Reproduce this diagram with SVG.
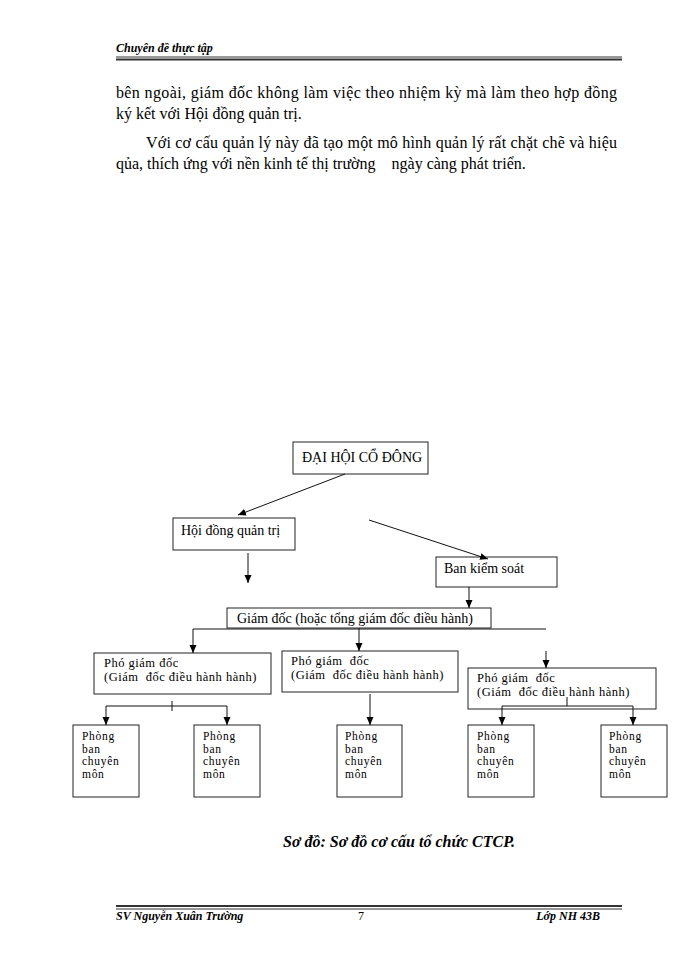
<svg xmlns="http://www.w3.org/2000/svg" width="700" height="960" viewBox="0 0 700 960">
<style>
  .body { font-family: "Liberation Serif", "Times New Roman", serif; font-size: 16px; fill: #000; }
  .hdr { font-family: "Liberation Serif", "Times New Roman", serif; font-size: 12px; font-style: italic; font-weight: bold; fill: #000; }
  .box { fill: #fff; stroke: #222; stroke-width: 1; }
  .t14 { font-family: "Liberation Serif", "Times New Roman", serif; font-size: 14px; fill: #000; }
  .t13 { font-family: "Liberation Serif", "Times New Roman", serif; font-size: 12.5px; letter-spacing: 0.5px; fill: #000; }
  .pb { font-family: "Liberation Serif", "Times New Roman", serif; font-size: 11.5px; letter-spacing: 0.7px; fill: #000; }
  .conn line { stroke: #111; stroke-width: 1; }
  .arr { marker-end: url(#ah); }
  .cap { font-family: "Liberation Serif", "Times New Roman", serif; font-size: 16px; font-style: italic; font-weight: bold; fill: #000; }
</style>
<defs>
  <marker id="ah" markerUnits="userSpaceOnUse" markerWidth="8" markerHeight="8" viewBox="0 0 8 8" refX="8" refY="4" orient="auto">
    <path d="M0,0.5 L8,4 L0,7.5 Z" fill="#000"/>
  </marker>
</defs>
<rect width="700" height="960" fill="#fff"/>

<g id="header">
  <text class="hdr" x="116" y="52">Chuyên đề thực tập</text>
  <line x1="116" y1="57" x2="622" y2="57" stroke="#333" stroke-width="1"/>
  <line x1="116" y1="59.5" x2="622" y2="59.5" stroke="#333" stroke-width="2"/>
</g>

<g id="body-text">
  <text class="body" x="116" y="98" textLength="501" lengthAdjust="spacing">bên ngoài, giám đốc không làm việc theo nhiệm kỳ mà làm theo hợp đồng</text>
  <text class="body" x="116" y="119">ký kết với Hội đồng quản trị.</text>
  <text class="body" x="146" y="148" textLength="471" lengthAdjust="spacing">Với cơ cấu quản lý này đã tạo một mô hình quản lý rất chặt chẽ và hiệu</text>
  <text class="body" x="116" y="169" xml:space="preserve">qủa, thích ứng với nền kinh tế thị trường    ngày càng phát triển.</text>
</g>

<g id="n-dhcd">
  <rect class="box" x="293" y="442" width="135" height="32"/>
  <text class="t14" x="302" y="462">ĐẠI HỘI CỔ ĐÔNG</text>
</g>
<g id="n-hdqt">
  <rect class="box" x="173" y="518" width="122" height="32"/>
  <text class="t14" x="181" y="535">Hội đồng quản trị</text>
</g>
<g id="n-bks">
  <rect class="box" x="436" y="557" width="121" height="30"/>
  <text class="t14" x="444" y="573">Ban kiểm soát</text>
</g>
<g id="n-gd">
  <rect class="box" x="227" y="608" width="264" height="20"/>
  <text class="t14" x="237" y="623">Giám đốc (hoặc tổng giám đốc điều hành)</text>
</g>
<g id="n-pgd1">
  <rect class="box" x="94" y="653" width="177" height="41"/>
  <text class="t13" x="104" y="667">Phó giám đốc</text>
  <text class="t13" x="104" y="681" xml:space="preserve">(Giám  đốc điều hành hành)</text>
</g>
<g id="n-pgd2">
  <rect class="box" x="282" y="651" width="176" height="41"/>
  <text class="t13" x="291" y="664.5" xml:space="preserve">Phó giám  đốc</text>
  <text class="t13" x="291" y="678.5" xml:space="preserve">(Giám  đốc điều hành hành)</text>
</g>
<g id="n-pgd3">
  <rect class="box" x="468" y="668" width="188" height="41"/>
  <text class="t13" x="477" y="682" xml:space="preserve">Phó giám  đốc</text>
  <text class="t13" x="477" y="696" xml:space="preserve">(Giám  đốc điều hành hành)</text>
</g>
<g id="n-pb1">
  <rect class="box" x="73" y="725" width="66" height="72"/>
  <text class="pb" x="82" y="740">Phòng</text>
  <text class="pb" x="82" y="752.5">ban</text>
  <text class="pb" x="82" y="765">chuyên</text>
  <text class="pb" x="82" y="777.5">môn</text>
</g>
<g id="n-pb2">
  <rect class="box" x="194" y="725" width="66" height="72"/>
  <text class="pb" x="203" y="740">Phòng</text>
  <text class="pb" x="203" y="752.5">ban</text>
  <text class="pb" x="203" y="765">chuyên</text>
  <text class="pb" x="203" y="777.5">môn</text>
</g>
<g id="n-pb3">
  <rect class="box" x="337" y="725" width="65" height="72"/>
  <text class="pb" x="345" y="740">Phòng</text>
  <text class="pb" x="345" y="752.5">ban</text>
  <text class="pb" x="345" y="765">chuyên</text>
  <text class="pb" x="345" y="777.5">môn</text>
</g>
<g id="n-pb4">
  <rect class="box" x="468" y="725" width="66" height="72"/>
  <text class="pb" x="477" y="740">Phòng</text>
  <text class="pb" x="477" y="752.5">ban</text>
  <text class="pb" x="477" y="765">chuyên</text>
  <text class="pb" x="477" y="777.5">môn</text>
</g>
<g id="n-pb5">
  <rect class="box" x="601" y="725" width="66" height="72"/>
  <text class="pb" x="609" y="740">Phòng</text>
  <text class="pb" x="609" y="752.5">ban</text>
  <text class="pb" x="609" y="765">chuyên</text>
  <text class="pb" x="609" y="777.5">môn</text>
</g>

<g id="connectors" class="conn">
  <line class="arr" x1="345" y1="474" x2="238" y2="515"/>
  <line class="arr" x1="248" y1="553" x2="248" y2="583"/>
  <line class="arr" x1="369" y1="520" x2="488" y2="559"/>
  <line class="arr" x1="469" y1="587" x2="469" y2="608"/>
  <line x1="193" y1="629" x2="546" y2="629"/>
  <line class="arr" x1="193" y1="629" x2="193" y2="653"/>
  <line class="arr" x1="359" y1="628" x2="359" y2="651"/>
  <line class="arr" x1="546" y1="651" x2="546" y2="668"/>
  <line x1="172" y1="701" x2="172" y2="711"/>
  <line x1="106" y1="706" x2="227" y2="706"/>
  <line class="arr" x1="106" y1="706" x2="106" y2="725"/>
  <line class="arr" x1="227" y1="706" x2="227" y2="725"/>
  <line class="arr" x1="370" y1="694" x2="370" y2="725"/>
  <line x1="567" y1="697" x2="567" y2="706"/>
  <line x1="502" y1="706" x2="633" y2="706"/>
  <line class="arr" x1="502" y1="706" x2="502" y2="725"/>
  <line class="arr" x1="633" y1="706" x2="633" y2="725"/>
</g>

<g id="caption">
  <text class="cap" x="283" y="847">Sơ đồ: Sơ đồ cơ cấu tổ chức CTCP.</text>
</g>

<g id="footer">
  <line x1="116" y1="906" x2="622" y2="906" stroke="#333" stroke-width="2"/>
  <line x1="116" y1="909" x2="622" y2="909" stroke="#333" stroke-width="1"/>
  <text class="hdr" x="116" y="920">SV Nguyễn Xuân Trường</text>
  <text class="hdr" x="358" y="920" style="font-style:normal;font-weight:normal">7</text>
  <text class="hdr" x="600" y="920" text-anchor="end">Lớp NH 43B</text>
</g>
</svg>
